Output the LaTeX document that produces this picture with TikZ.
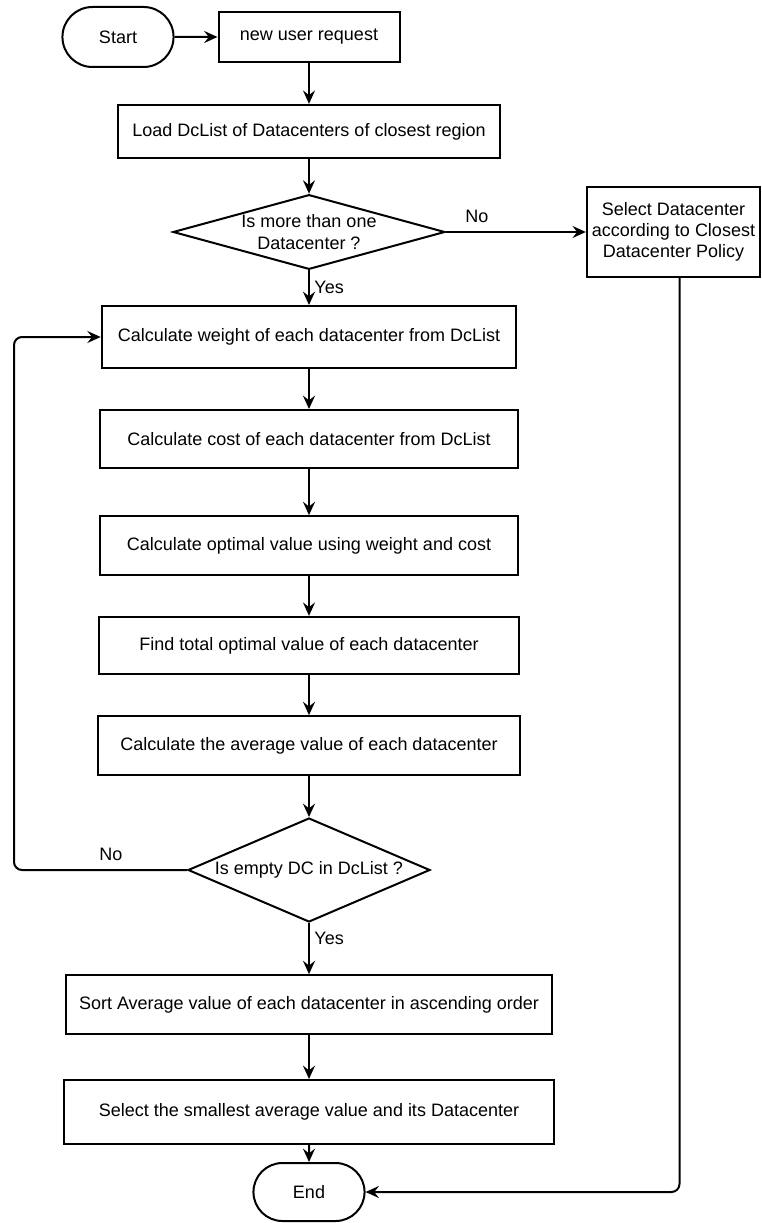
\documentclass[tikz,border=0pt]{standalone}
\usepackage{fontspec}
\setmainfont{Liberation Sans}
\usepackage{tikz}
\usetikzlibrary{shapes.geometric,shapes.misc,arrows.meta}

\tikzset{
  box/.style={draw, line width=1.5pt, rectangle, inner sep=2pt, align=center},
  term/.style={draw, line width=1.5pt, rounded rectangle, minimum width=90pt, minimum height=45pt},
  dec/.style={draw, line width=1.5pt, diamond, inner sep=0pt},
  arr/.style={line width=1.5pt, -{Stealth[length=10pt,width=9pt,inset=3.5pt]}},
  lbl/.style={font=\fontsize{13.5}{16}\selectfont}
}

\begin{document}
\begin{tikzpicture}[x=0.75pt, y=-0.75pt, font=\fontsize{13.5}{16}\selectfont]
\useasboundingbox (0,0) rectangle (762,1223);

\node[term] (start) at (118,37) {Start};
\node[box, minimum width=135.75pt, minimum height=37.5pt] (req) at (309,37) {new user request};
\node[box, minimum width=287pt, minimum height=40pt] (load) at (309,131.5) {Load DcList of Datacenters of closest region};
\node[dec, minimum width=204pt, minimum height=56pt,
  label={[align=center]center:Is more than one\\Datacenter ?}] (dc1) at (309,232) {};
\node[box, minimum width=130pt, minimum height=67.5pt] (sel) at (673.5,232) {Select Datacenter\\according to Closest\\Datacenter Policy};

\node[box, minimum width=311pt, minimum height=46.5pt] (weight) at (309,337) {Calculate weight of each datacenter from DcList};
\node[box, minimum width=313.5pt, minimum height=43.5pt] (cost) at (309,439) {Calculate cost of each datacenter from DcList};
\node[box, minimum width=314pt, minimum height=44pt] (opt) at (309,545.5) {Calculate optimal value using weight and cost};
\node[box, minimum width=315pt, minimum height=43pt] (find) at (309,645.5) {Find total optimal value of each datacenter};
\node[box, minimum width=316.5pt, minimum height=44pt] (avg) at (309,745.5) {Calculate the average value of each datacenter};
\node[dec, minimum width=181.5pt, minimum height=78pt,
  label={center:Is empty DC in DcList ?}] (dc2) at (309,870) {};
\node[box, minimum width=365pt, minimum height=44pt] (sort) at (309,1004.5) {Sort Average value of each datacenter in ascending order};
\node[box, minimum width=367pt, minimum height=48pt] (small) at (309,1112) {Select the smallest average value and its Datacenter};
\node[term, minimum height=43.5pt] (end) at (309,1192) {End};

\coordinate (loopx) at (14,0);

\draw[arr] (start) -- (req);
\draw[arr] (req) -- (load);
\draw[arr] (load) -- (dc1);
\draw[arr] (dc1) -- node[pos=0.22, above=3pt, lbl] {No} (sel);
\draw[arr] (dc1) -- node[right, lbl] {Yes} (weight);
\draw[arr] (weight) -- (cost);
\draw[arr] (cost) -- (opt);
\draw[arr] (opt) -- (find);
\draw[arr] (find) -- (avg);
\draw[arr] (avg) -- (dc2);
\draw[arr, rounded corners=6pt] (dc2.west) -- node[pos=0.44, above=3pt, lbl] {No} (dc2.west -| loopx) |- (weight.west);
\draw[arr] (dc2) -- node[pos=0.3, right, lbl] {Yes} (sort);
\draw[arr] (sort) -- (small);
\draw[arr] (small) -- (end);
\draw[arr, rounded corners=6pt] ([xshift=4.5pt]sel.south) |- (end.east);
\end{tikzpicture}
\end{document}
